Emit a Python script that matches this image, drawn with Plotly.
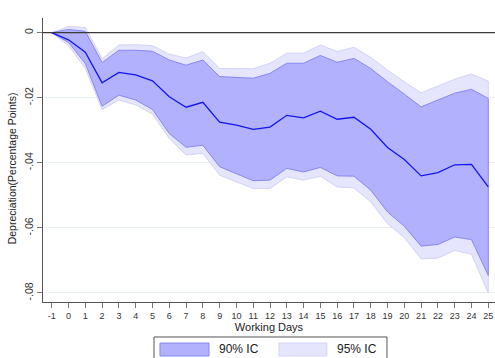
import plotly.graph_objects as go

# Event-time grid (working days relative to the announcement)
days = list(range(-1, 26))

# Point estimate of the depreciation path
estimate = [0.0, -0.0022, -0.0060, -0.0154, -0.0122, -0.0130, -0.0148, -0.0197, -0.0229,
            -0.0214, -0.0275, -0.0284, -0.0297, -0.0290, -0.0254, -0.0262, -0.0241,
            -0.0266, -0.0260, -0.0297, -0.0353, -0.0390, -0.0440, -0.0430, -0.0406,
            -0.0405, -0.0474]

# 90% confidence interval
ci90_upper = [0.0, 0.0010, 0.0004, -0.0092, -0.0054, -0.0054, -0.0057, -0.0084, -0.0100,
              -0.0084, -0.0135, -0.0137, -0.0140, -0.0125, -0.0094, -0.0094, -0.0070,
              -0.0091, -0.0079, -0.0110, -0.0151, -0.0189, -0.0228, -0.0207, -0.0186,
              -0.0174, -0.0202]
ci90_lower = [0.0, -0.0030, -0.0095, -0.0226, -0.0192, -0.0207, -0.0236, -0.0310, -0.0352,
              -0.0346, -0.0412, -0.0433, -0.0455, -0.0453, -0.0417, -0.0428, -0.0414,
              -0.0440, -0.0441, -0.0484, -0.0551, -0.0595, -0.0656, -0.0651, -0.0628,
              -0.0636, -0.0746]

# 95% confidence interval
ci95_upper = [0.0, 0.0019, 0.0016, -0.0080, -0.0038, -0.0037, -0.0040, -0.0066, -0.0078,
              -0.0058, -0.0110, -0.0110, -0.0111, -0.0094, -0.0063, -0.0063, -0.0038,
              -0.0058, -0.0045, -0.0076, -0.0115, -0.0151, -0.0185, -0.0164, -0.0143,
              -0.0127, -0.0149]
ci95_lower = [0.0, -0.0040, -0.0110, -0.0236, -0.0207, -0.0222, -0.0250, -0.0325, -0.0376,
              -0.0371, -0.0438, -0.0458, -0.0479, -0.0479, -0.0443, -0.0453, -0.0441,
              -0.0474, -0.0477, -0.0520, -0.0587, -0.0630, -0.0695, -0.0693, -0.0669,
              -0.0681, -0.0800]

y_ticks = [0, -0.02, -0.04, -0.06, -0.08]
y_tick_labels = ["0", "-.02", "-.04", "-.06", "-.08"]

FONT = "Liberation Sans, Arial, sans-serif"
C95_FILL = "#e5e5fd"
C95_LINE = "#d3d3f9"
C90_FILL = "#b1b1fd"
C90_LINE = "#8888f2"
C_EST = "#1414f5"

fig = go.Figure()


def band(upper, lower, fill, line, name):
    xs = days + days[::-1]
    ys = upper + lower[::-1]
    return go.Scatter(x=xs, y=ys, mode="lines", fill="toself", fillcolor=fill,
                      line=dict(color=line, width=1), name=name, hoverinfo="skip",
                      showlegend=False)


fig.add_trace(band(ci95_upper, ci95_lower, C95_FILL, C95_LINE, "95% IC"))
fig.add_trace(band(ci90_upper, ci90_lower, C90_FILL, C90_LINE, "90% IC"))
fig.add_trace(go.Scatter(x=days, y=estimate, mode="lines",
                         line=dict(color=C_EST, width=1.3), showlegend=False))

# Reference line at zero
fig.add_shape(type="line", xref="paper", yref="y", x0=0, x1=1, y0=0, y1=0,
              line=dict(color="#3a3a3a", width=1.3), layer="above")

# Hand-built legend box below the axes
fig.add_shape(type="rect", xref="paper", yref="paper", x0=0.2456, x1=0.761,
              y0=-0.215, y1=-0.1232, line=dict(color="#555555", width=1),
              fillcolor="white")
fig.add_shape(type="rect", xref="paper", yref="paper", x0=0.2588, x1=0.3673,
              y0=-0.190, y1=-0.1444, line=dict(color=C90_LINE, width=1),
              fillcolor=C90_FILL)
fig.add_shape(type="rect", xref="paper", yref="paper", x0=0.522, x1=0.628,
              y0=-0.190, y1=-0.1444, line=dict(color=C95_LINE, width=1),
              fillcolor=C95_FILL)
fig.add_annotation(text="90% IC", xref="paper", yref="paper", x=0.385, y=-0.167,
                   xanchor="left", yanchor="middle", showarrow=False,
                   font=dict(family=FONT, size=12, color="#222222"))
fig.add_annotation(text="95% IC", xref="paper", yref="paper", x=0.647, y=-0.167,
                   xanchor="left", yanchor="middle", showarrow=False,
                   font=dict(family=FONT, size=12, color="#222222"))

# Vertical axis title
fig.add_annotation(text="Depreciation(Percentage Points)", xref="paper", yref="paper",
                   x=-0.069, y=0.47, textangle=-90, showarrow=False,
                   xanchor="center", yanchor="middle",
                   font=dict(family=FONT, size=10.5, color="#222222"))

fig.update_layout(
    width=495, height=358,
    margin=dict(l=43, r=0, t=18, b=56),
    paper_bgcolor="white", plot_bgcolor="white",
    font=dict(family=FONT, color="#222222"),
    xaxis=dict(
        range=[-1.52, 25.4], tickmode="array", tickvals=days,
        ticktext=[str(d) for d in days], tickfont=dict(size=9, color="#333333"),
        ticks="outside", ticklen=5, tickcolor="#777777", tickwidth=1,
        showline=True, linecolor="#555555", linewidth=1, showgrid=False,
        zeroline=False,
        title=dict(text="Working Days", font=dict(size=11, color="#222222"), standoff=2),
    ),
    yaxis=dict(
        range=[-0.08277, 0.00451], tickmode="array", tickvals=y_ticks,
        ticktext=y_tick_labels, tickangle=-90, tickfont=dict(size=10.5, color="#333333"),
        ticks="outside", ticklen=5, tickcolor="#777777", tickwidth=1,
        showline=True, linecolor="#555555", linewidth=1,
        showgrid=True, gridcolor="#e8f0f0", gridwidth=1, zeroline=False,
    ),
)

fig.write_html("out.html")
